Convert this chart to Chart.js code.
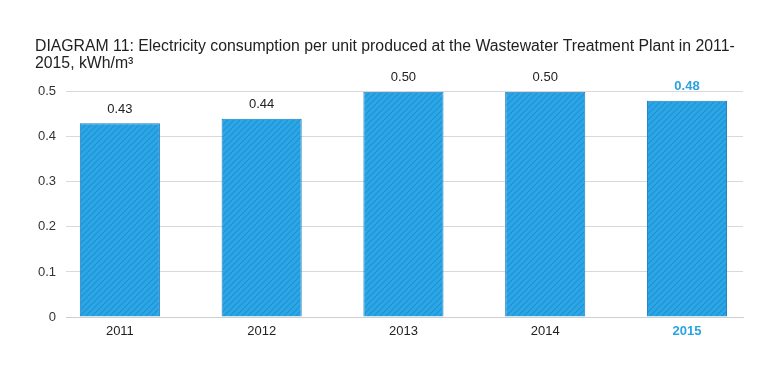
<!DOCTYPE html>
<html>
<head>
<meta charset="utf-8">
<script src="https://cdn.jsdelivr.net/npm/chart.js@4.4.0/dist/chart.umd.min.js"></script>
<style>
  html, body { margin: 0; padding: 0; background: #fff; }
  #wrap { width: 777px; height: 372px; }
</style>
</head>
<body>
<div id="wrap"><canvas id="chart" width="777" height="372"></canvas></div>
<script>
// data
const years = ['2011', '2012', '2013', '2014', '2015'];
const consumption = [0.43, 0.44, 0.50, 0.50, 0.48];
const yTicks = [0, 0.1, 0.2, 0.3, 0.4, 0.5];

const titleLines = [
    'DIAGRAM 11: Electricity consumption per unit produced at the Wastewater Treatment Plant in 2011-',
    '2015, kWh/m³'
];

const blue = '#2ca7e6';
const highlight = '#2aa3e2';
const fontFamily = '"Liberation Sans", Arial, sans-serif';

// striped fill like the reference bars
function makeStripes() {
    const c = document.createElement('canvas');
    c.width = 6;
    c.height = 6;
    const g = c.getContext('2d');
    g.fillStyle = blue;
    g.fillRect(0, 0, 6, 6);
    g.strokeStyle = '#2290d4';
    g.lineWidth = 1.2;
    g.beginPath();
    g.moveTo(-1, 7); g.lineTo(7, -1);
    g.moveTo(-1, 1); g.lineTo(1, -1);
    g.moveTo(5, 7); g.lineTo(7, 5);
    g.stroke();
    return g.createPattern(c, 'repeat');
}

const ctx = document.getElementById('chart').getContext('2d');

const valueLabels = {
    id: 'valueLabels',
    afterDatasetsDraw(chart) {
        const c = chart.ctx;
        const meta = chart.getDatasetMeta(0);
        c.save();
        c.textAlign = 'center';
        c.textBaseline = 'middle';
        meta.data.forEach((bar, i) => {
            const last = i === years.length - 1;
            c.font = (last ? 'bold ' : '') + '13px ' + fontFamily;
            c.fillStyle = last ? highlight : '#222';
            c.fillText(consumption[i].toFixed(2), bar.x, bar.y - 14);
        });
        c.restore();
    }
};

new Chart(ctx, {
    type: 'bar',
    data: {
        datasets: [{
            data: consumption.map((v, i) => ({ x: i, y: v })),
            backgroundColor: makeStripes(),
            borderColor: '#1b7cc2',
            borderWidth: 1,
            barPercentage: 0.565,
            categoryPercentage: 1
        }]
    },
    options: {
        responsive: false,
        animation: false,
        layout: {
            padding: { left: 35, right: 34, top: 0, bottom: 25 }
        },
        scales: {
            x: {
                type: 'linear',
                min: -0.38,
                max: 4.395,
                offset: false,
                bounds: 'data',
                grid: { display: false, drawTicks: false },
                border: { color: '#cfcfcf' },
                afterBuildTicks(axis) {
                    axis.ticks = years.map((_, i) => ({ value: i }));
                },
                afterFit(axis) {
                    axis.height = 30;
                },
                ticks: {
                    autoSkip: false,
                    maxRotation: 0,
                    padding: 7,
                    callback: (v) => years[v],
                    color: (c) => c.index === years.length - 1 ? highlight : '#222',
                    font: (c) => ({
                        family: fontFamily,
                        size: 13,
                        weight: c.index === years.length - 1 ? 'bold' : 'normal'
                    })
                }
            },
            y: {
                min: 0,
                max: 0.5,
                border: { display: false },
                grid: { color: '#d9d9d9', drawTicks: false },
                afterBuildTicks(axis) {
                    axis.ticks = yTicks.map(v => ({ value: v }));
                },
                afterFit(axis) {
                    axis.width = 31;
                },
                ticks: {
                    padding: 10,
                    color: '#333',
                    font: { family: fontFamily, size: 13 },
                    callback: (v) => v === 0 ? '0' : v.toFixed(1)
                }
            }
        },
        plugins: {
            legend: { display: false },
            tooltip: { enabled: false },
            title: {
                display: true,
                text: titleLines,
                align: 'start',
                color: '#222',
                font: { family: fontFamily, size: 15.8, weight: 'normal', lineHeight: 1.1 },
                padding: { top: 38, bottom: 19 }
            }
        }
    },
    plugins: [valueLabels]
});
</script>
</body>
</html>
